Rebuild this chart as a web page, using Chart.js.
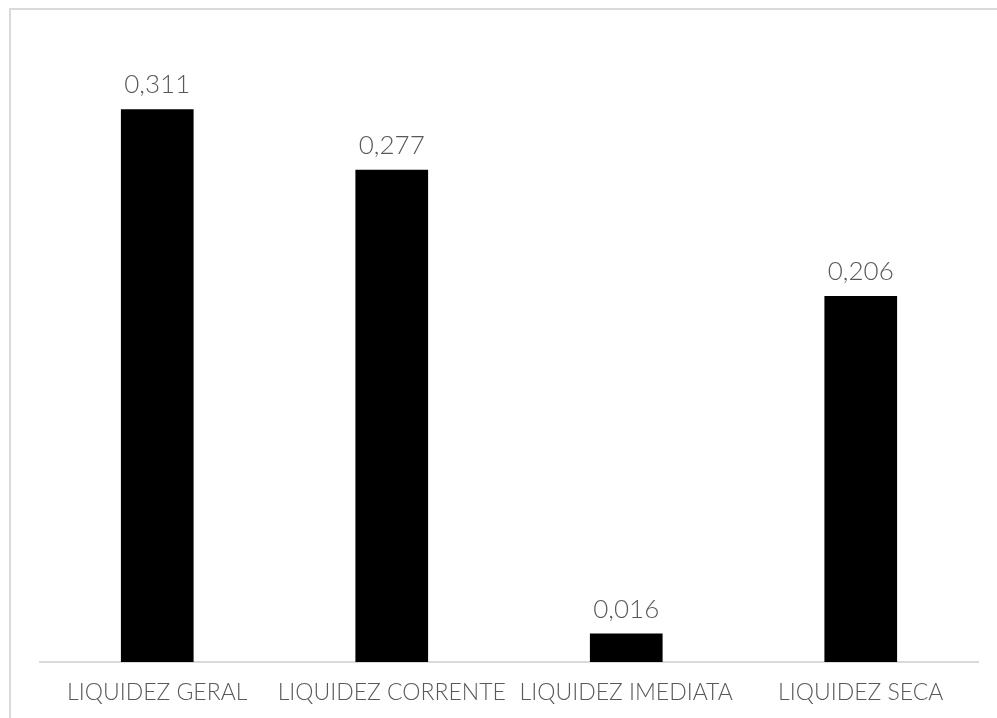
<!DOCTYPE html>
<html>
<head>
<meta charset="utf-8">
<script src="https://cdn.jsdelivr.net/npm/chart.js@4/dist/chart.umd.min.js"></script>
<style>
  html, body { margin: 0; padding: 0; background: #fff; }
  #wrap { position: relative; width: 997px; height: 718px; overflow: hidden; }
  #frame { position: absolute; left: 9px; top: 8px; width: 1000px; height: 720px;
           border-top: 2px solid #d9d9d9; border-left: 2px solid #d9d9d9; }
  canvas { position: absolute; left: 0; top: 0; }
</style>
</head>
<body>
<div id="wrap">
  <div id="frame"></div>
  <canvas id="liqChart" width="997" height="724"></canvas>
</div>
<script>
  // chart data
  const categories = ['LIQUIDEZ GERAL', 'LIQUIDEZ CORRENTE', 'LIQUIDEZ IMEDIATA', 'LIQUIDEZ SECA'];
  const values = [0.311, 0.277, 0.016, 0.206];

  const textColor = '#595959';
  const fontFamily = 'Lato, "DejaVu Sans", sans-serif';

  // draws the value above each bar (no datalabels plugin available)
  const valueLabels = {
    id: 'valueLabels',
    afterDatasetsDraw(chart) {
      const ctx = chart.ctx;
      const meta = chart.getDatasetMeta(0);
      ctx.save();
      ctx.font = '300 26px ' + fontFamily;
      ctx.fillStyle = textColor;
      ctx.textAlign = 'center';
      ctx.textBaseline = 'alphabetic';
      meta.data.forEach((bar, i) => {
        const txt = values[i].toFixed(3).replace('.', ',');
        ctx.fillText(txt, bar.x, bar.y - 16);
      });
      ctx.restore();
    }
  };

  const ctx = document.getElementById('liqChart').getContext('2d');
  const chart = new Chart(ctx, {
    type: 'bar',
    data: {
      labels: categories,
      datasets: [{
        data: values,
        backgroundColor: '#000000',
        borderWidth: 0,
        barPercentage: 1,
        categoryPercentage: 0.31
      }]
    },
    options: {
      responsive: false,
      animation: false,
      layout: { padding: { top: 40, left: 40, right: 19, bottom: 1 } },
      plugins: {
        legend: { display: false },
        tooltip: { enabled: false }
      },
      scales: {
        x: {
          grid: { display: false, drawTicks: false },
          border: { display: true, color: '#d9d9d9', width: 2 },
          ticks: {
            color: textColor,
            padding: 19,
            maxRotation: 0,
            autoSkip: false,
            font: { family: fontFamily, size: 23, weight: 300, lineHeight: 1 }
          }
        },
        y: {
          display: false,
          min: 0,
          max: 0.35
        }
      }
    },
    plugins: [valueLabels]
  });
</script>
</body>
</html>
